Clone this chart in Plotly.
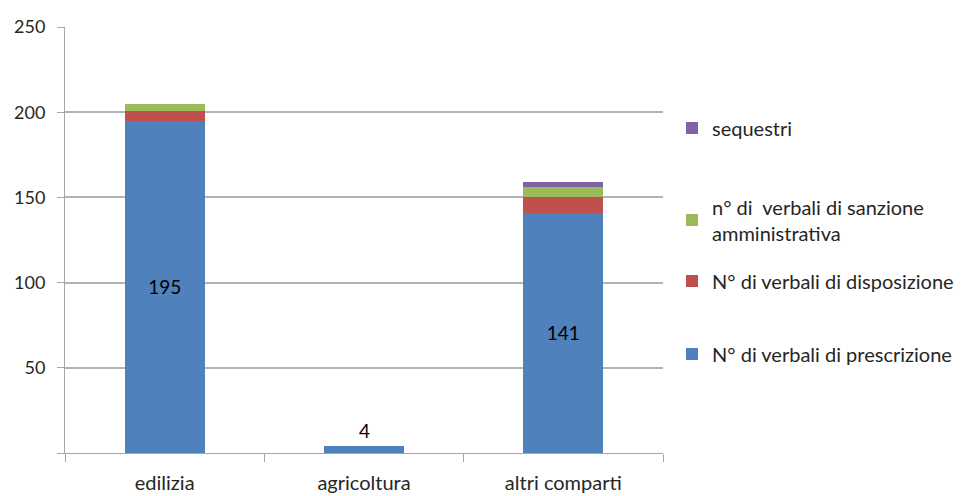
import plotly.graph_objects as go

categories = ["edilizia", "agricoltura", "altri comparti"]
prescrizione = [195, 4, 141]
disposizione = [6, 0, 9]
sanzione = [4, 0, 6]
sequestri = [0, 0, 3]

names = ["N° di verbali di prescrizione", "N° di verbali di disposizione",
         "n° di  verbali di sanzione<br>amministrativa", "sequestri"]
colors = ["#4F81BD", "#C0504D", "#9BBB59", "#8064A2"]
series = [prescrizione, disposizione, sanzione, sequestri]
legend_ids = ["legend4", "legend3", "legend2", "legend"]
legend_y = [354, 281, 220, 128]  # pixel centres in the window

OFF = 8  # page body margin
W, H = 962, 496
L, R, T, B = 65 - OFF, W - (663 - OFF), 27 - OFF, H - (453 - OFF)
ph = H - T - B
pw = W - L - R

font = "Lato, 'Open Sans', sans-serif"
fig = go.Figure()
for i, (nm, col, vals, lid) in enumerate(zip(names, colors, series, legend_ids)):
    kw = {}
    if i == 0:
        kw = dict(text=[str(v) if v > 20 else "" for v in vals],
                  textposition="inside", insidetextanchor="middle",
                  textfont=dict(color="black", size=19, family=font))
    fig.add_trace(go.Bar(x=categories, y=vals, name=nm, marker_color=col,
                         marker_line_width=0, legend=lid, **kw))

# small value label above agricoltura bar
fig.add_annotation(x=categories[1], y=prescrizione[1], text=str(prescrizione[1]),
                   showarrow=False, yanchor="bottom", yshift=2,
                   font=dict(color="black", size=19, family=font))

layout_legends = {}
for lid, py in zip(legend_ids, legend_y):
    layout_legends[lid] = dict(x=(672 - 65) / pw, xanchor="left",
                               y=(453 - py) / ph, yanchor="middle",
                               bgcolor="rgba(0,0,0,0)",
                               font=dict(size=20, family=font, color="#262626"))

fig.update_layout(
    width=W, height=H,
    margin=dict(l=L, r=R, t=T, b=B, autoexpand=False),
    barmode="stack", bargap=0.6,
    plot_bgcolor="white", paper_bgcolor="white",
    showlegend=True,
    font=dict(family=font, size=20, color="#262626"),
    xaxis=dict(showline=True, linecolor="#a6a6a6", linewidth=1,
               ticks="outside", tickson="boundaries", ticklen=8,
               tickcolor="#a6a6a6", showgrid=False, automargin=False,
               ticklabelstandoff=12,
               tickfont=dict(size=20)),
    yaxis=dict(range=[0, 250], tickvals=[0, 50, 100, 150, 200, 250],
               ticktext=["", "50", "100", "150", "200", "250"],
               showline=True, linecolor="#a6a6a6", linewidth=1,
               ticks="outside", ticklen=7, tickcolor="#a6a6a6",
               showgrid=True, gridcolor="#b3b3b3", gridwidth=1.5,
               ticklabelstandoff=8, automargin=False,
               zeroline=False, tickfont=dict(size=18)),
    **layout_legends,
)

fig.write_html("out.html")
